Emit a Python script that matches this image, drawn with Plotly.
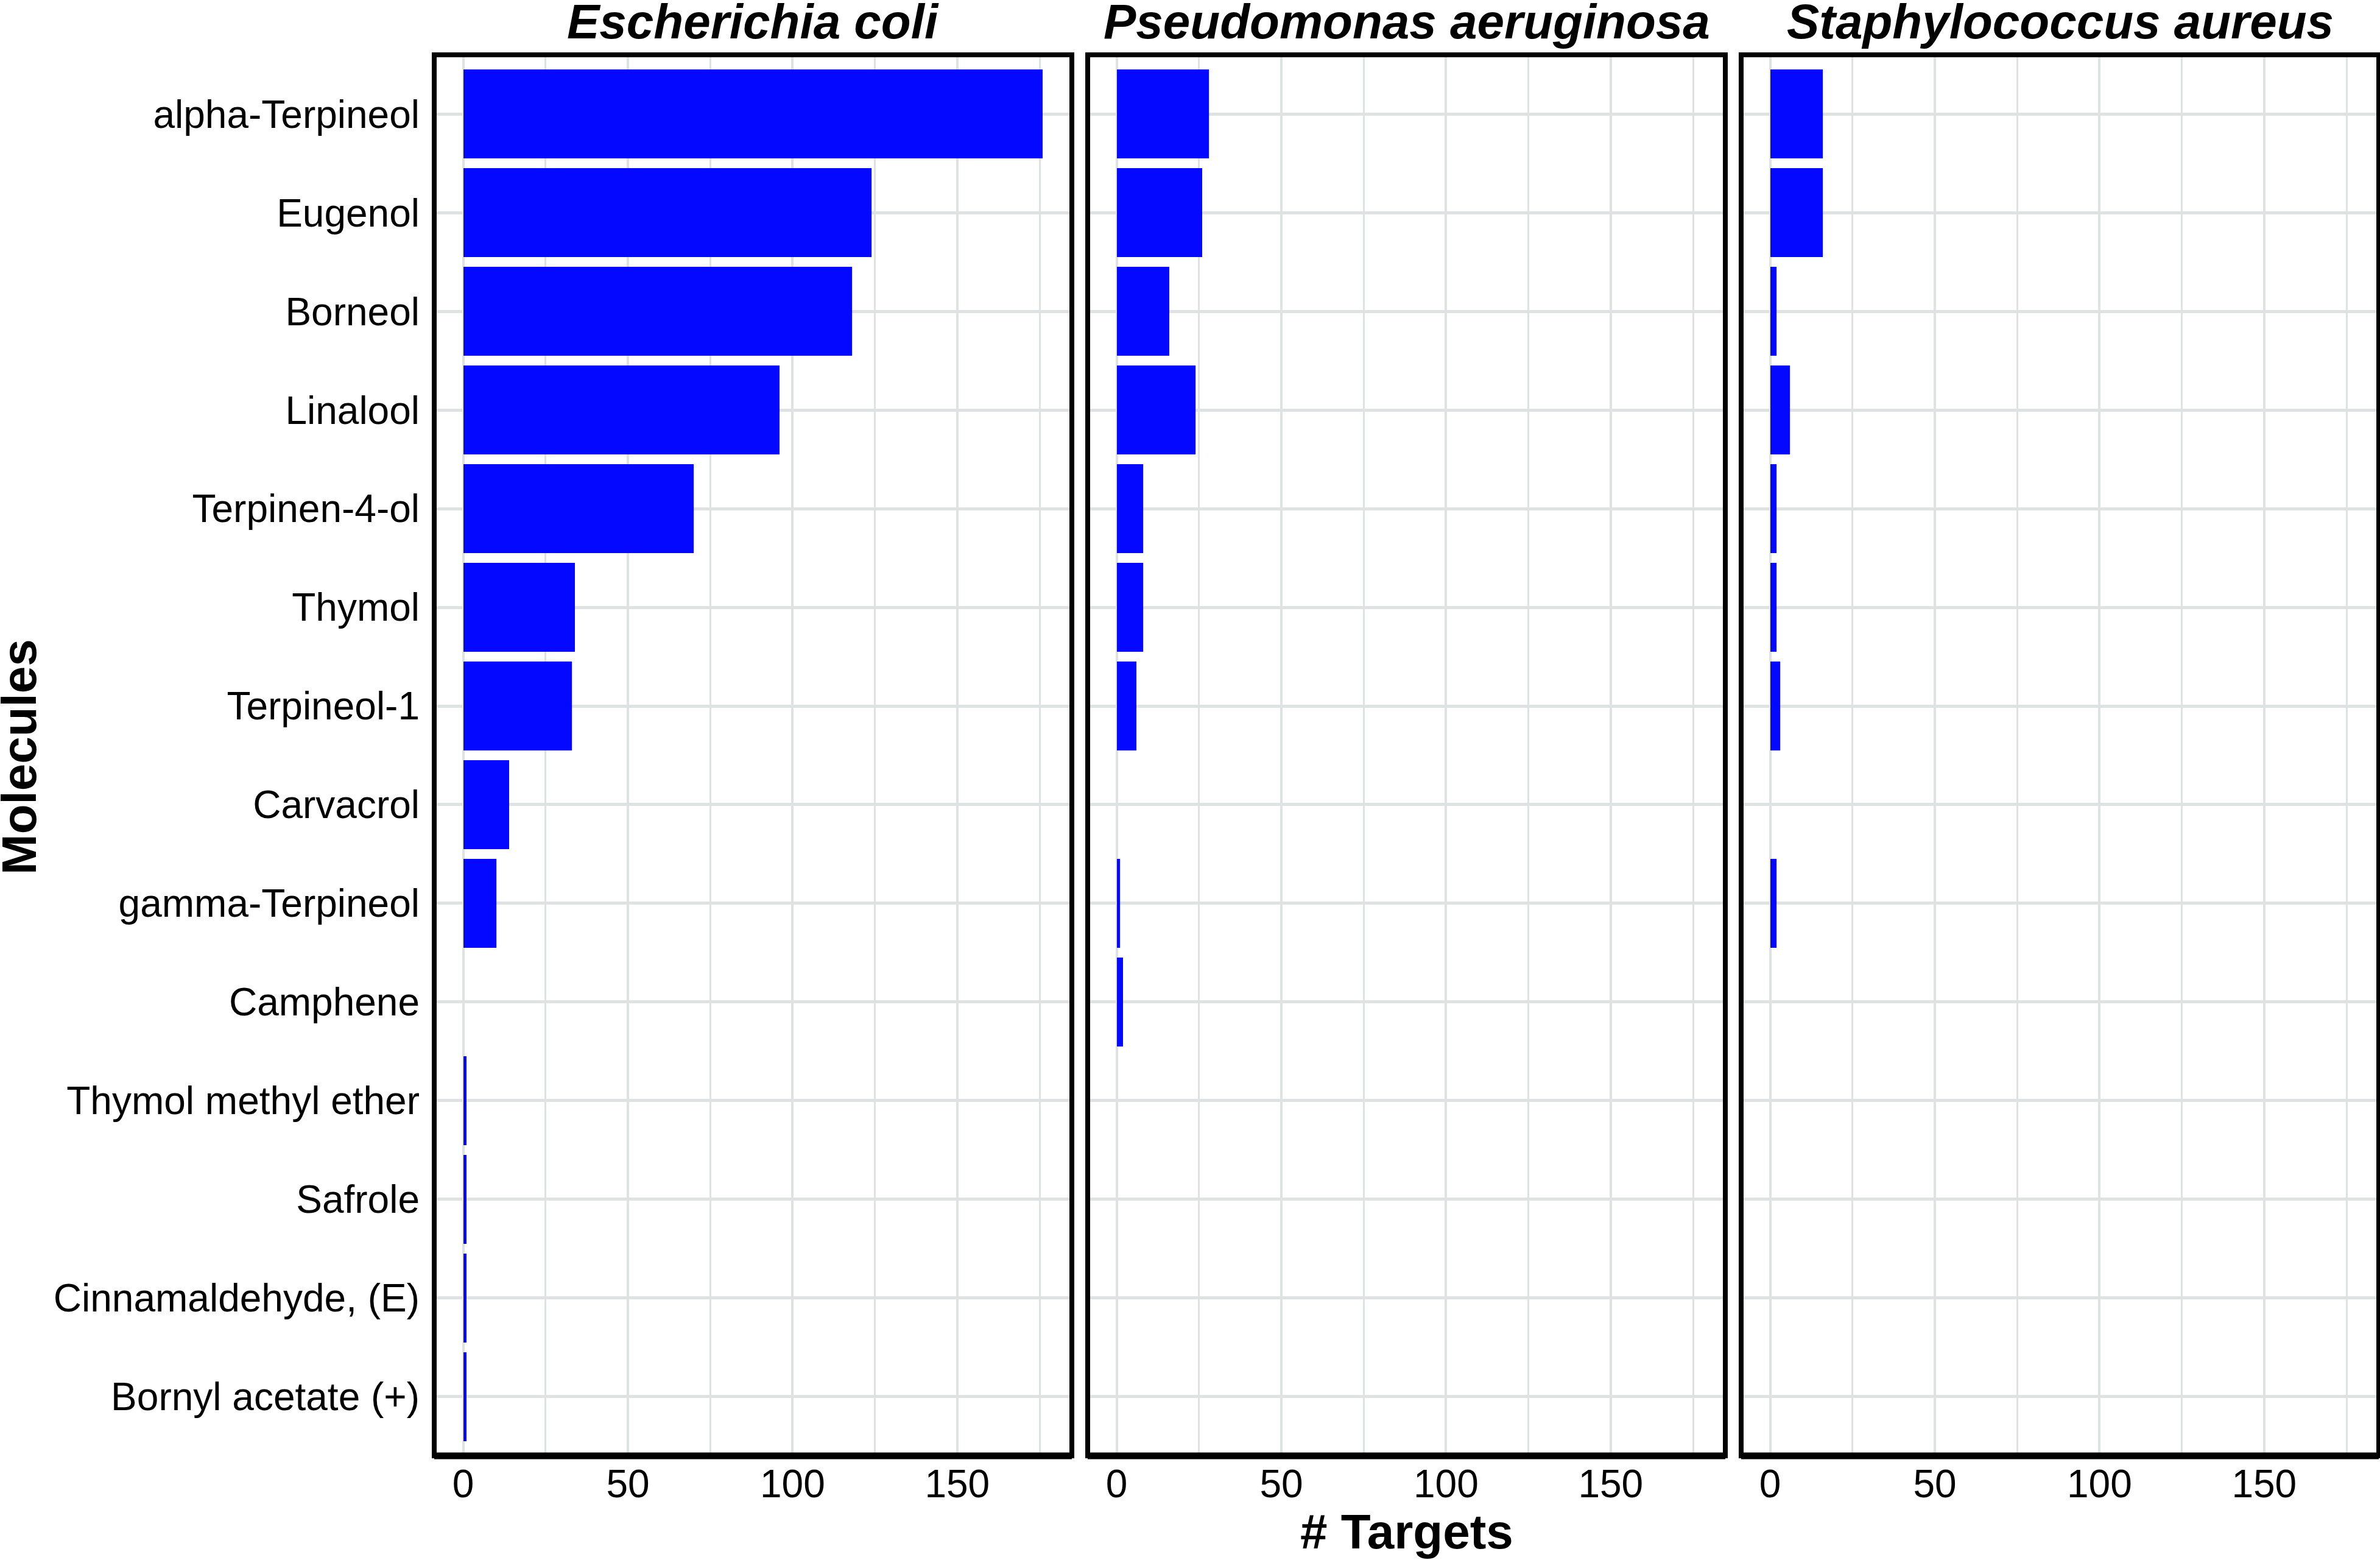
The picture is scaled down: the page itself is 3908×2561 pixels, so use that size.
import plotly.graph_objects as go

molecules = ["alpha-Terpineol", "Eugenol", "Borneol", "Linalool", "Terpinen-4-ol",
             "Thymol", "Terpineol-1", "Carvacrol", "gamma-Terpineol", "Camphene",
             "Thymol methyl ether", "Safrole", "Cinnamaldehyde, (E)", "Bornyl acetate (+)"]
organisms = ["Escherichia coli", "Pseudomonas aeruginosa", "Staphylococcus aureus"]
e_coli = [176, 124, 118, 96, 70, 34, 33, 14, 10, 0, 1, 1, 1, 1]
p_aeruginosa = [28, 26, 16, 24, 8, 8, 6, 0, 1, 2, 0, 0, 0, 0]
s_aureus = [16, 16, 2, 6, 2, 2, 3, 0, 2, 0, 0, 0, 0, 0]
x_ticks = [0, 50, 100, 150]
series = [e_coli, p_aeruginosa, s_aureus]

W, H = 3908, 2561
ML, MR, MT, MB = 713, 2, 90, 171
PW = W - ML - MR
PH = H - MT - MB
panel_w = 1047 / PW
gap = (1 - 3 * panel_w) / 2
domains = [[0, panel_w], [panel_w + gap, 2 * panel_w + gap], [1 - panel_w, 1]]

FONT = "Liberation Sans, Arial, sans-serif"
GRID = "#dfe2e2"
BAR = "#0508ff"
vmax = max(max(s) for s in series)
xr = [-0.05 * vmax, 1.05 * vmax]


def py_to_paper(py):
    return (H - MB - py) / PH


def px_to_paper(px):
    return (px - ML) / PW


fig = go.Figure()
layout = dict(
    width=W, height=H,
    margin=dict(l=ML, r=MR, t=MT, b=MB, pad=0),
    paper_bgcolor="white", plot_bgcolor="white",
    showlegend=False, bargap=0,
    font=dict(family=FONT, color="black"),
)
shapes = []
annotations = []
for i, (org, vals) in enumerate(zip(organisms, series)):
    sx = "" if i == 0 else str(i + 1)
    fig.add_trace(go.Bar(
        y=molecules, x=vals, orientation="h", width=0.9,
        marker=dict(color=BAR, line=dict(width=0)),
        xaxis="x" + sx, yaxis="y" + sx, hoverinfo="x+y",
    ))
    layout["xaxis" + sx] = dict(
        domain=domains[i], anchor="y" + sx, range=xr,
        tickvals=x_ticks, ticktext=[str(t) for t in x_ticks],
        showgrid=True, gridcolor=GRID, gridwidth=4,
        minor=dict(dtick=25, tick0=0, showgrid=True, gridcolor=GRID, gridwidth=2.5),
        zeroline=False, showline=False, ticks="",
        tickfont=dict(size=64, family=FONT, color="black"),
        ticklabelstandoff=3,
    )
    ya = dict(
        domain=[0, 1], anchor="x" + sx,
        categoryorder="array", categoryarray=molecules,
        range=[len(molecules) - 1 + 0.6, -0.6],
        showgrid=True, gridcolor=GRID, gridwidth=4.5,
        zeroline=False, showline=False, ticks="",
        tickfont=dict(size=64, family=FONT, color="black"),
        showticklabels=(i == 0), ticklabelstandoff=23,
    )
    if i > 0:
        ya["matches"] = "y"
    layout["yaxis" + sx] = ya
    shapes.append(dict(type="rect", xref="x" + sx + " domain", yref="y" + sx + " domain",
                       x0=0, x1=1, y0=0, y1=1, line=dict(color="black", width=8),
                       fillcolor="rgba(0,0,0,0)", layer="above"))
    shapes.append(dict(type="line", xref="x" + sx + " domain", yref="y" + sx + " domain",
                       x0=0, x1=1, y0=0, y1=0, line=dict(color="black", width=11),
                       layer="above"))
    annotations.append(dict(
        text="<b><i>" + org + "</i></b>", xref="paper", yref="paper",
        x=(domains[i][0] + domains[i][1]) / 2, y=py_to_paper(35),
        xanchor="center", yanchor="middle", showarrow=False,
        font=dict(size=80, family=FONT, color="black"),
    ))

annotations.append(dict(
    text="<b># Targets</b>", xref="paper", yref="paper",
    x=(domains[1][0] + domains[1][1]) / 2, y=py_to_paper(2514),
    xanchor="center", yanchor="middle", showarrow=False,
    font=dict(size=80, family=FONT, color="black"),
))
annotations.append(dict(
    text="<b>Molecules</b>", xref="paper", yref="paper",
    x=px_to_paper(31), y=py_to_paper(1243), textangle=-90,
    xanchor="center", yanchor="middle", showarrow=False,
    font=dict(size=80, family=FONT, color="black"),
))
layout["shapes"] = shapes
layout["annotations"] = annotations
fig.update_layout(**layout)
fig.write_html("out.html")
